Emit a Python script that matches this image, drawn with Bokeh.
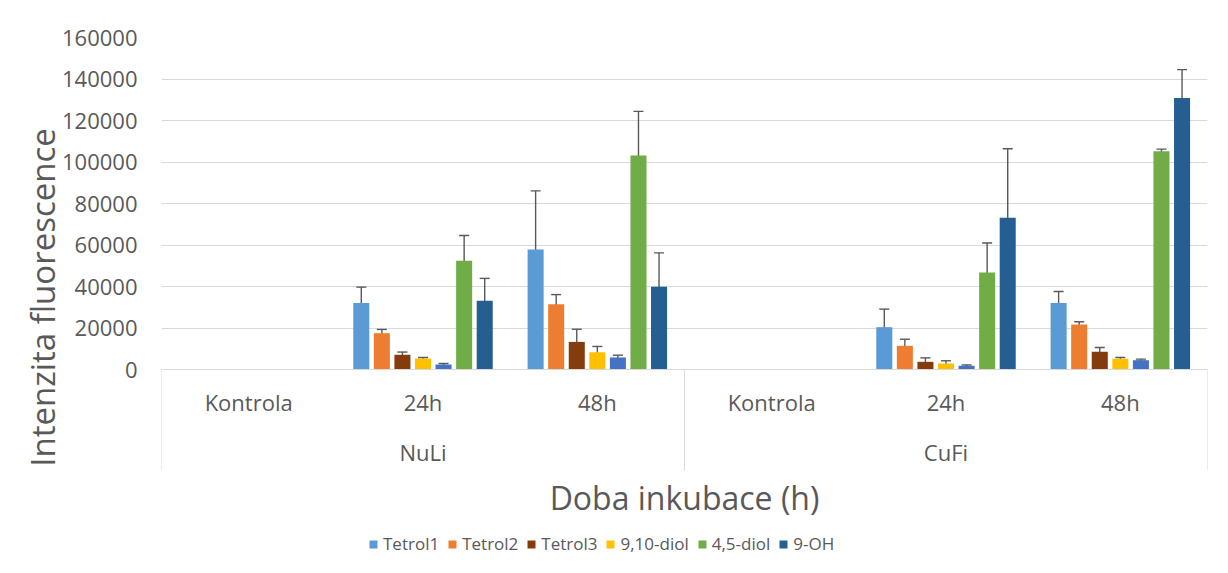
from bokeh.plotting import figure
from bokeh.models import (FactorRange, Range1d, ColumnDataSource, FixedTicker, Whisker,
                          TeeHead, Legend, LegendItem, CategoricalAxis, NumeralTickFormatter)
from bokeh.transform import dodge
from bokeh.embed import file_html
from bokeh.resources import INLINE

# ---------------- data ----------------
groups = ["NuLi", "CuFi"]
times = ["Kontrola", "24h", "48h"]
series_names = ["Tetrol1", "Tetrol2", "Tetrol3", "9,10-diol", "", "4,5-diol", "9-OH"]

tetrol1 = [0, 32000, 57800, 0, 20400, 32100]
tetrol1_err = [0, 7700, 28300, 0, 8700, 5500]
tetrol2 = [0, 17500, 31500, 0, 11400, 21700]
tetrol2_err = [0, 1800, 4600, 0, 3200, 1300]
tetrol3 = [0, 7100, 13300, 0, 3700, 8500]
tetrol3_err = [0, 1300, 6100, 0, 1900, 2100]
diol910 = [0, 5300, 8300, 0, 2900, 5200]
diol910_err = [0, 500, 2800, 0, 1300, 600]
unnamed = [0, 2400, 5800, 0, 1800, 4500]
unnamed_err = [0, 500, 1100, 0, 400, 500]
diol45 = [0, 52400, 103100, 0, 46800, 105200]
diol45_err = [0, 12200, 21300, 0, 14200, 1000]
oh9 = [0, 33100, 39900, 0, 73100, 130800]
oh9_err = [0, 10800, 16300, 0, 33300, 13700]

y_ticks = [0, 20000, 40000, 60000, 80000, 100000, 120000, 140000, 160000]

values = [tetrol1, tetrol2, tetrol3, diol910, unnamed, diol45, oh9]
errors = [tetrol1_err, tetrol2_err, tetrol3_err, diol910_err, unnamed_err, diol45_err, oh9_err]
colors = ["#5B9BD5", "#ED7D31", "#843C0C", "#FFC000", "#4472C4", "#70AD47", "#255E91"]

# ---------------- layout constants ----------------
FONT = "Open Sans"
TXT = "#595959"
GRID = "#d9d9d9"
Y_MAX = 160000
FRAME_TOP, ZERO_Y, FRAME_BOTTOM, AXIS_BOX_BOTTOM = 37, 369, 557, 470
per_px = Y_MAX / (ZERO_Y - FRAME_TOP)
Y_MIN = -(FRAME_BOTTOM - ZERO_Y) * per_px
BOX_DEPTH = -(AXIS_BOX_BOTTOM - ZERO_Y) * per_px

factors = [(g, t) for g in groups for t in times]

p = figure(
    x_range=FactorRange(*factors, factor_padding=0, group_padding=0, range_padding=0),
    y_range=Range1d(Y_MIN, Y_MAX),
    width=1212, height=557,
    output_backend="svg", toolbar_location=None,
    x_axis_location=None,
    min_border_left=161, min_border_right=5, min_border_top=37, min_border_bottom=0,
)
p.outline_line_color = None
p.background_fill_color = "white"
p.border_fill_color = "white"
p.xgrid.grid_line_color = None
p.ygrid.ticker = FixedTicker(ticks=y_ticks)
p.ygrid.grid_line_color = GRID
p.ygrid.grid_line_width = 1

# y axis
yax = p.yaxis[0]
yax.ticker = FixedTicker(ticks=y_ticks)
yax.formatter = NumeralTickFormatter(format="0")
yax.axis_line_color = None
yax.major_tick_line_color = None
yax.minor_tick_line_color = None
yax.major_tick_out = 0
yax.major_tick_in = 0
yax.major_label_text_font = FONT
yax.major_label_text_font_size = "22px"
yax.major_label_text_color = TXT
yax.major_label_standoff = 24
yax.axis_label = "Intenzita fluorescence"
yax.axis_label_text_font = FONT
yax.axis_label_text_font_size = "33px"
yax.axis_label_text_font_style = "normal"
yax.axis_label_text_color = TXT
yax.axis_label_standoff = -6

# x axis (placed at y = 0 inside the frame)
xax = CategoricalAxis(fixed_location=0)
xax.axis_line_color = GRID
xax.axis_line_width = 1
xax.major_tick_line_color = None
xax.minor_tick_line_color = None
xax.major_tick_out = 0
xax.major_tick_in = 0
xax.separator_line_color = None
xax.major_label_text_font = FONT
xax.major_label_text_font_size = "22px"
xax.major_label_text_color = TXT
xax.major_label_standoff = 17
xax.group_text_font = FONT
xax.group_text_font_size = "22px"
xax.group_text_color = TXT
xax.group_text_font_style = "normal"
xax.axis_label = "Doba inkubace (h)"
xax.axis_label_text_font = FONT
xax.axis_label_text_font_size = "32px"
xax.axis_label_text_font_style = "normal"
xax.axis_label_text_color = TXT
xax.axis_label_standoff = 6
p.add_layout(xax, "below")

# separator lines of the category box
sep_src = ColumnDataSource(dict(f=[factors[0], factors[3]], y0=[0, 0], y1=[BOX_DEPTH, BOX_DEPTH]))
p.segment(x0=dodge("f", -0.5, range=p.x_range), x1=dodge("f", -0.5, range=p.x_range),
          y0="y0", y1="y1", source=sep_src, line_color=GRID, line_width=1)
sep_src2 = ColumnDataSource(dict(f=[factors[-1]], y0=[0], y1=[BOX_DEPTH]))
p.segment(x0=dodge("f", 0.5, range=p.x_range), x1=dodge("f", 0.5, range=p.x_range),
          y0="y0", y1="y1", source=sep_src2, line_color=GRID, line_width=1)

# bars + error bars
PITCH = 0.118
BAR_W = 0.092
n = len(values)
items = []
for i, (name, vals, errs, col) in enumerate(zip(series_names, values, errors, colors)):
    off = (i - (n - 1) / 2) * PITCH
    src = ColumnDataSource(dict(x=factors, top=vals))
    r = p.vbar(x=dodge("x", off, range=p.x_range), top="top", width=BAR_W, source=src,
               fill_color=col, line_color=None)
    wx = [f for f, v in zip(factors, vals) if v > 0]
    wu = [v + e for v, e in zip(vals, errs) if v > 0]
    wl = [v - e for v, e in zip(vals, errs) if v > 0]
    wsrc = ColumnDataSource(dict(x=wx, upper=wu, lower=wl))
    w = Whisker(base=dodge("x", off, range=p.x_range), upper="upper", lower="lower", source=wsrc,
                line_color="#595959", line_width=1.4,
                upper_head=TeeHead(size=10, line_color="#595959", line_width=1.4),
                lower_head=TeeHead(size=10, line_color="#595959", line_width=1.4))
    p.add_layout(w)
    if name:
        items.append(LegendItem(label=name, renderers=[r]))

legend = Legend(items=items, orientation="horizontal", location=(207, 2),
                glyph_width=10, glyph_height=10, label_standoff=5, spacing=8,
                padding=0, margin=0, border_line_color=None, background_fill_alpha=0,
                label_text_font=FONT, label_text_font_size="17px", label_text_color=TXT)
p.add_layout(legend)

open("out.html", "w").write(file_html(p, INLINE))
